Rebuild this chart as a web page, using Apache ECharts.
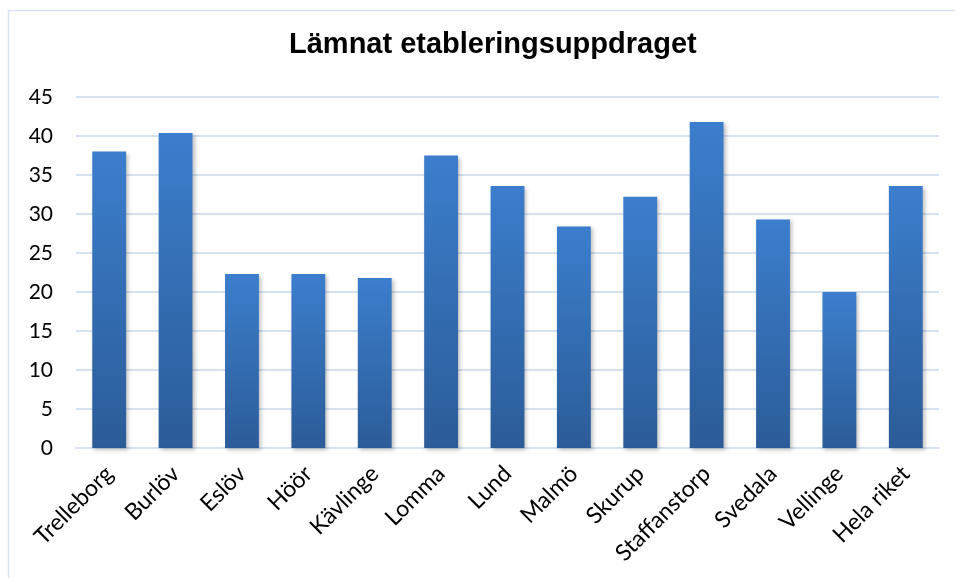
<!DOCTYPE html>
<html lang="sv">
<head>
    <meta charset="UTF-8">
    <title>Lämnat etableringsuppdraget</title>
    <script src="https://cdn.jsdelivr.net/npm/echarts@6/dist/echarts.min.js"></script>
    <style>
        body {
            margin: 0;
            padding: 0;
            background-color: #ffffff;
        }
        #chart {
            width: 955px;
            height: 578px;
        }
    </style>
</head>
<body>

    <div id="chart"></div>

<script>
var titleText = 'Lämnat etableringsuppdraget';
var kommuner = [
    'Trelleborg', 'Burlöv', 'Eslöv', 'Höör', 'Kävlinge', 'Lomma', 'Lund',
    'Malmö', 'Skurup', 'Staffanstorp', 'Svedala', 'Vellinge', 'Hela riket'
];
var andel = [38.0, 40.4, 22.3, 22.3, 21.8, 37.5, 33.6, 28.4, 32.2, 41.8, 29.3, 20.0, 33.6];

var labelFont = 'Lato, "Open Sans", sans-serif';
var gridColor = '#d6e2f2';

var myChart = echarts.init(document.getElementById('chart'));

var option = {
    animation: false,
    // ram runt diagrammet
    graphic: [{
        type: 'rect',
        shape: { x: 8.5, y: 10.5, width: 960, height: 580 },
        style: { fill: 'none', stroke: '#d9e4f3', lineWidth: 1.5 },
        silent: true
    }],
    title: {
        text: titleText,
        left: 284,
        top: 25,
        textStyle: {
            fontFamily: '"Liberation Sans", Arial, sans-serif',
            fontSize: 29,
            fontWeight: 'bold',
            color: '#000000'
        }
    },
    grid: {
        left: 76,
        right: 16,
        top: 97,
        bottom: 130,
        containLabel: false
    },
    xAxis: {
        type: 'category',
        data: kommuner,
        axisLine: { lineStyle: { color: gridColor, width: 2 } },
        axisTick: { show: false },
        axisLabel: {
            rotate: 45,
            interval: 0,
            margin: 22,
            fontFamily: labelFont,
            fontSize: 23,
            color: '#000000'
        }
    },
    yAxis: {
        type: 'value',
        min: 0,
        max: 45,
        interval: 5,
        axisLine: { show: false },
        axisTick: { show: false },
        axisLabel: {
            margin: 23,
            fontFamily: labelFont,
            fontSize: 21,
            color: '#000000'
        },
        splitLine: { lineStyle: { color: gridColor, width: 2 } }
    },
    series: [{
        type: 'bar',
        data: andel,
        barCategoryGap: '49%',
        itemStyle: {
            color: new echarts.graphic.LinearGradient(0, 0, 0, 1, [
                { offset: 0, color: '#3b7ecd' },
                { offset: 1, color: '#2c5c98' }
            ]),
            shadowColor: 'rgba(0, 0, 0, 0.25)',
            shadowBlur: 4,
            shadowOffsetX: 2,
            shadowOffsetY: 2
        }
    }]
};

myChart.setOption(option);
</script>

</body>
</html>
